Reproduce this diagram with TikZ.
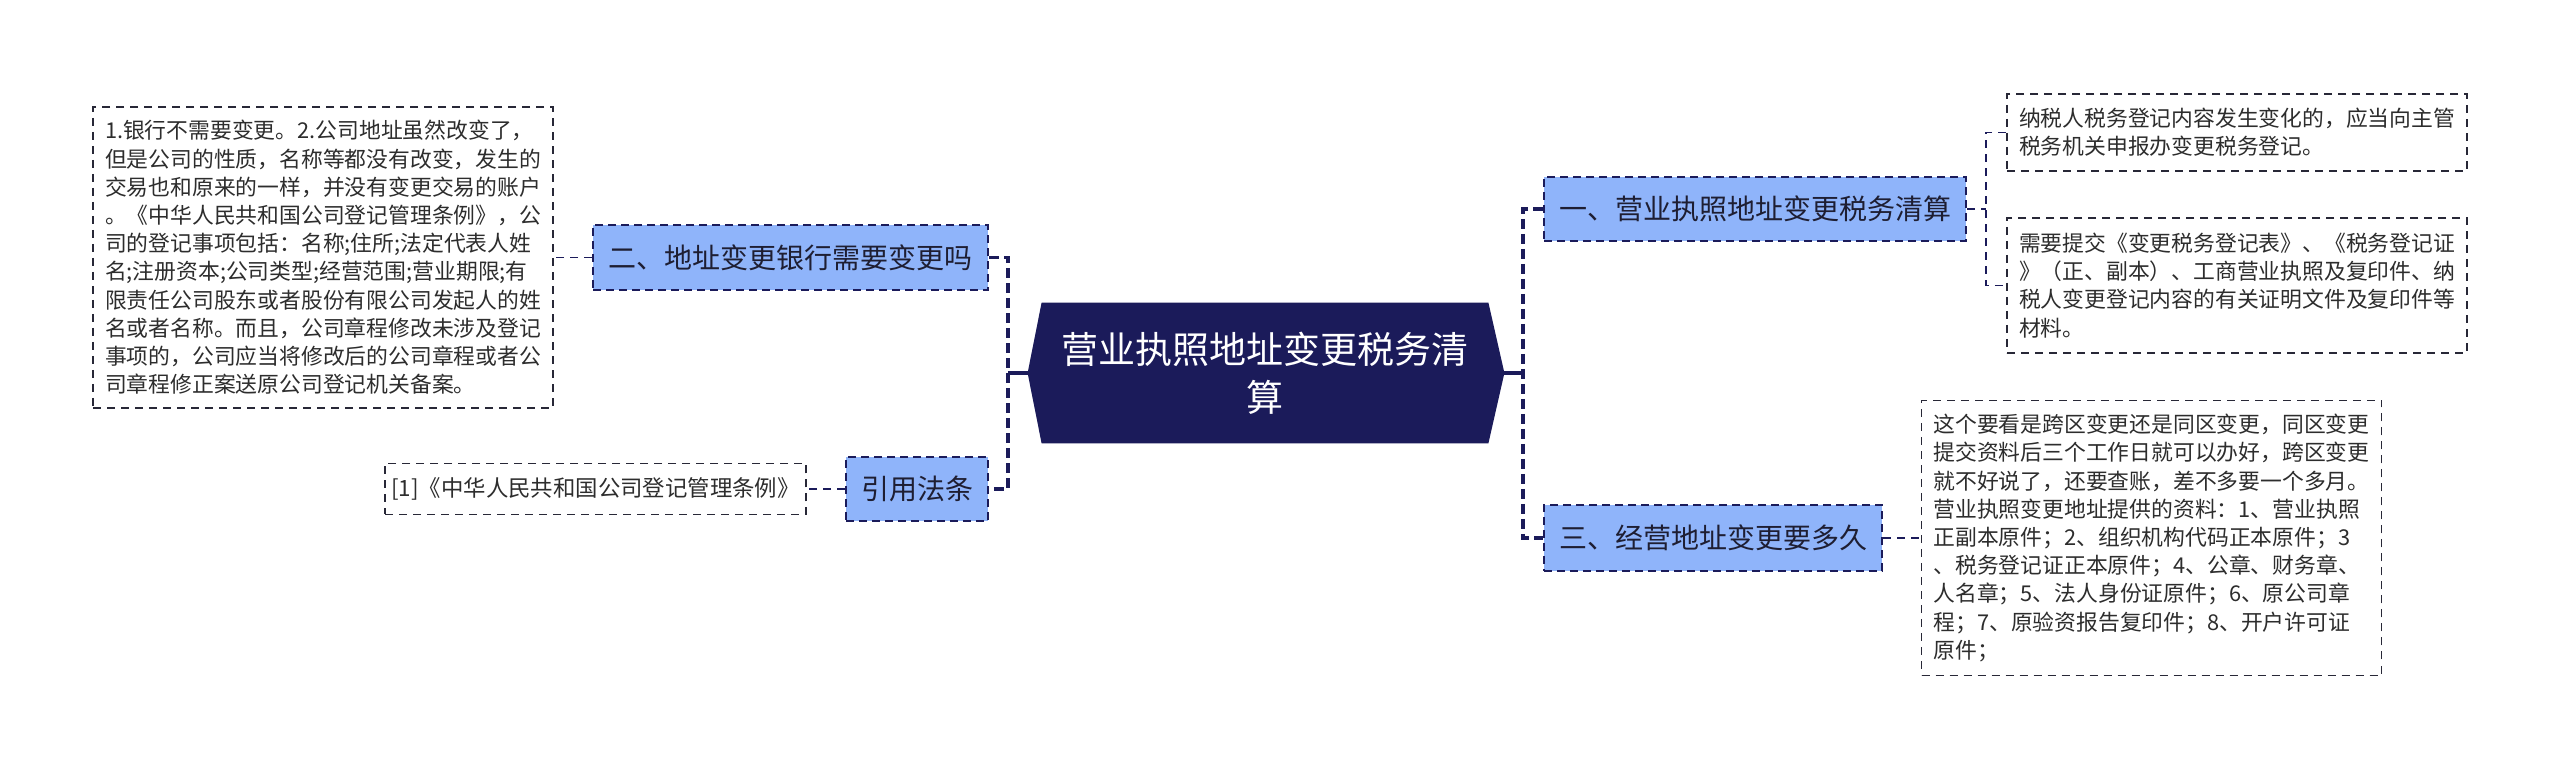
\documentclass[tikz,border=0pt]{standalone}
\usepackage{fontspec}
\setmainfont{Noto Sans CJK SC}
\usetikzlibrary{backgrounds}
\definecolor{hubnavy}{RGB}{27,27,90}
\definecolor{lvblue}{RGB}{143,180,250}
\definecolor{lvtext}{RGB}{30,30,50}
\definecolor{leaftext}{RGB}{45,45,45}
\definecolor{leafline}{RGB}{40,40,55}
\begin{document}
\begin{tikzpicture}[x=0.5pt,y=-0.5pt,
  lvone/.style={draw=hubnavy, line width=1pt, dash pattern=on 4pt off 2.5pt, fill=lvblue,
    inner sep=0pt, font=\fontsize{14pt}{17pt}\selectfont, text=lvtext},
  leaf/.style={draw=leafline, line width=0.9pt, dash pattern=on 4pt off 3pt,
    inner xsep=6pt, inner ysep=0pt, align=left, text width=218pt,
    font=\fontsize{10.9pt}{14.1pt}\selectfont, text=leaftext},
  refleaf/.style={draw=leafline, line width=0.9pt, dash pattern=on 4pt off 3pt,
    inner sep=0pt, font=\fontsize{11.2pt}{14pt}\selectfont, text=leaftext},
  maindash/.style={draw=hubnavy, line width=1.6pt, dash pattern=on 5pt off 2.5pt},
  mainsolid/.style={draw=hubnavy, line width=1.6pt},
  leafdash/.style={draw=hubnavy, line width=0.9pt, dash pattern=on 4pt off 3pt}
]
\useasboundingbox (0,0) rectangle (2560,769);

% central topic
\node[minimum width=223pt, minimum height=70pt, inner sep=0pt, text=white, align=center,
  font=\fontsize{18.5pt}{24pt}\selectfont] (c) at (1265,373) {营业执照地址变更税务清\\算};
\coordinate (ctipL) at ([xshift=-7pt]c.west);
\coordinate (ctipR) at ([xshift=8pt]c.east);
\begin{scope}[on background layer]
  \fill[white] (0,0) rectangle (2560,769);
  \fill[hubnavy] (c.north west) -- (c.north east) -- (ctipR) -- (c.south east)
    -- (c.south west) -- (ctipL) -- cycle;
\end{scope}

% level one
\node[lvone, minimum width=197.5pt, minimum height=32.5pt] (b2) at (790.5,257.5) {二、地址变更银行需要变更吗};
\node[lvone, minimum width=71pt, minimum height=32pt] (b4) at (917,489) {引用法条};
\node[lvone, minimum width=211pt, minimum height=32pt] (b1) at (1755,209) {一、营业执照地址变更税务清算};
\node[lvone, minimum width=169pt, minimum height=33pt] (b3) at (1713,538) {三、经营地址变更要多久};

% leaves
\node[leaf, minimum height=150.5pt] (lbox) at (323,257.5) {1.银行不需要变更。2.公司地址虽然改变了，\\
但是公司的性质，名称等都没有改变，发生的\\
交易也和原来的一样，并没有变更交易的账户\\
。《中华人民共和国公司登记管理条例》，公\\
司的登记事项包括：名称;住所;法定代表人姓\\
名;注册资本;公司类型;经营范围;营业期限;有\\
限责任公司股东或者股份有限公司发起人的姓\\
名或者名称。而且，公司章程修改未涉及登记\\
事项的，公司应当将修改后的公司章程或者公\\
司章程修正案送原公司登记机关备案。};

\node[refleaf, minimum width=210.5pt, minimum height=25.5pt] (ref) at (595.5,489) {[1]《中华人民共和国公司登记管理条例》};

\node[leaf, minimum height=38.5pt] (t1) at (2237,132.5) {纳税人税务登记内容发生变化的，应当向主管\\
税务机关申报办变更税务登记。};

\node[leaf, minimum height=67.5pt] (t2) at (2237,285.5) {需要提交《变更税务登记表》、《税务登记证\\
》（正、副本）、工商营业执照及复印件、纳\\
税人变更登记内容的有关证明文件及复印件等\\
材料。};

\node[leaf, minimum height=137.5pt] (rbox) at (2151.5,538) {这个要看是跨区变更还是同区变更，同区变更\\
提交资料后三个工作日就可以办好，跨区变更\\
就不好说了，还要查账，差不多要一个多月。\\
营业执照变更地址提供的资料：1、营业执照\\
正副本原件；2、组织机构代码正本原件；3\\
、税务登记证正本原件；4、公章、财务章、\\
人名章；5、法人身份证原件；6、原公司章\\
程；7、原验资报告复印件；8、开户许可证\\
原件；};

% main connectors
\coordinate (lv) at (1008,373);
\coordinate (rv) at (1523,373);
\draw[mainsolid] (ctipL) -- (lv);
\draw[mainsolid] (ctipR) -- (rv);
\draw[maindash] (b2.east) -| (lv) |- (b4.east);
\draw[maindash] (b1.west) -| (rv) |- (b3.west);

% leaf connectors
\coordinate (j1) at (1986,209);
\draw[leafdash] (b1.east) -- (j1);
\draw[leafdash] (t1.west) -| (j1) |- (t2.west);
\draw[leafdash] (b2.west) -- (lbox.east);
\draw[leafdash] (b4.west) -- (ref.east);
\draw[leafdash] (b3.east) -- (rbox.west);
\end{tikzpicture}
\end{document}
